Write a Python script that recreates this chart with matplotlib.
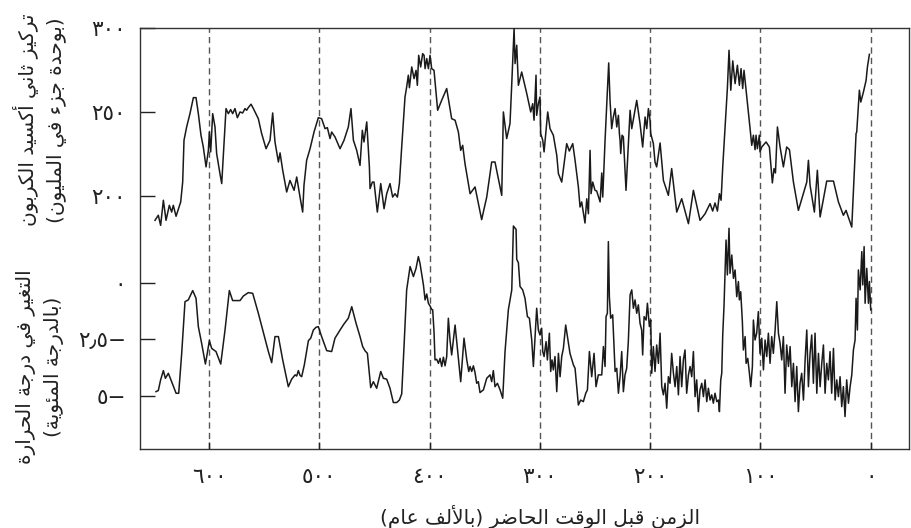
import matplotlib
matplotlib.use("Agg")
import matplotlib.pyplot as plt

plt.rcParams['font.family'] = ['DejaVu Sans']

# ---- data: ice-core record, age in thousands of years before present ----
co2_age = [649.0, 646.0, 643.9, 641.4, 639.0, 636.0, 633.9, 632.4, 629.9, 625.7,
           623.9, 622.7, 620.3, 617.3, 614.2, 611.8, 609.7, 607.3, 605.2, 602.7,
           600.6, 599.7, 598.5, 596.7, 594.6, 593.1, 590.1, 588.5, 586.4, 584.6,
           582.5, 580.4, 578.6, 576.5, 574.3, 571.9, 569.5, 567.4, 565.9, 564.4,
           561.9, 559.8, 555.3, 552.3, 548.3, 544.7, 542.3, 540.2, 537.1, 535.6,
           533.2, 529.6, 526.6, 522.9, 520.5, 517.5, 515.1, 513.9, 511.5, 508.4,
           504.8, 500.9, 497.9, 494.8, 492.7, 490.3, 488.8, 485.8, 481.2, 477.6,
           473.7, 471.3, 469.1, 466.1, 463.1, 461.0, 459.5, 457.0, 454.6, 454.0,
           451.9, 450.4, 447.4, 444.3, 441.3, 438.9, 435.9, 433.5, 431.4, 429.2,
           427.4, 425.3, 422.3, 420.8, 419.3, 418.3, 416.2, 414.1, 412.3, 411.1,
           409.9, 408.1, 406.3, 405.0, 404.1, 402.6, 401.1, 399.6, 398.1, 396.0,
           392.7, 389.0, 384.5, 380.0, 376.9, 373.9, 371.8, 370.0, 367.9, 363.3,
           358.8, 352.8, 348.2, 343.7, 340.7, 334.6, 333.1, 330.1, 327.1, 325.5,
           323.4, 322.5, 321.0, 319.5, 316.5, 311.9, 308.3, 306.5, 305.3, 303.5,
           302.9, 301.4, 299.9, 299.3, 297.4, 296.2, 293.8, 292.9, 290.8, 287.8,
           284.7, 283.2, 280.2, 275.7, 273.3, 270.2, 268.1, 265.1, 263.6, 262.1,
           259.1, 257.5, 256.0, 254.5, 253.6, 252.1, 250.0, 248.5, 245.4, 243.9,
           243.0, 240.9, 238.8, 237.6, 236.4, 234.9, 233.4, 231.8, 230.3, 228.8,
           227.9, 227.3, 226.7, 225.5, 224.3, 221.9, 218.2, 216.7, 212.2, 209.2,
           206.8, 204.6, 203.1, 201.6, 200.1, 199.5, 197.1, 195.6, 194.1, 191.0,
           188.0, 183.5, 180.5, 175.9, 171.4, 165.3, 160.8, 154.8, 150.2, 145.7,
           143.3, 141.2, 139.0, 137.2, 135.7, 134.2, 132.1, 130.0, 128.5, 126.9,
           125.1, 123.0, 120.9, 119.1, 117.6, 116.1, 114.9, 113.3, 111.8, 109.4,
           107.9, 106.4, 104.9, 104.0, 102.8, 101.0, 100.4, 98.8, 94.9, 91.9,
           89.2, 87.7, 86.4, 84.6, 82.2, 79.2, 76.2, 73.7, 70.1, 65.6,
           58.0, 56.5, 55.0, 51.1, 48.4, 45.9, 39.9, 33.8, 29.3, 24.8,
           22.4, 17.2, 13.3, 12.7, 10.3, 9.0, 6.6, 4.2, 3.0, 1.2]
co2_ppm = [185.7, 188.7, 182.7, 197.6, 185.7, 194.6, 190.6, 194.6, 188.1, 196.6,
           208.4, 233.2, 241.1, 249.0, 258.5, 258.5, 249.0, 236.2, 229.2, 217.4,
           227.2, 238.1, 226.3, 249.0, 241.1, 225.3, 213.4, 207.5, 231.2, 252.0,
           249.0, 251.4, 249.0, 252.0, 246.6, 250.0, 249.4, 252.0, 251.0, 252.6,
           254.6, 252.0, 246.0, 237.2, 228.2, 233.2, 249.4, 232.2, 220.3, 225.7,
           215.4, 202.5, 209.4, 203.5, 211.4, 199.5, 190.6, 206.5, 221.3, 228.2,
           238.1, 246.6, 246.0, 240.1, 240.7, 234.2, 238.1, 235.2, 228.2, 233.2,
           241.1, 252.0, 233.2, 227.2, 218.3, 239.1, 232.2, 244.1, 217.4, 204.5,
           208.4, 208.4, 190.6, 207.5, 192.6, 201.5, 207.5, 199.5, 201.5, 199.5,
           207.5, 229.2, 258.9, 264.8, 271.8, 264.4, 276.7, 269.8, 274.7, 265.8,
           283.6, 276.7, 284.6, 283.6, 275.7, 281.7, 275.7, 283.6, 275.7, 274.7,
           251.0, 257.0, 263.9, 246.0, 245.1, 238.1, 227.2, 230.2, 219.3, 201.5,
           205.5, 186.1, 199.5, 220.3, 220.3, 200.5, 250.0, 234.2, 243.1, 266.8,
           299.5, 278.7, 289.6, 265.8, 273.7, 260.9, 250.0, 254.9, 245.1, 271.8,
           248.0, 254.9, 258.9, 237.2, 233.2, 226.3, 243.1, 250.0, 240.1, 236.2,
           224.3, 213.4, 208.4, 231.2, 226.8, 231.2, 221.3, 205.5, 193.6, 196.6,
           184.1, 198.5, 189.6, 227.2, 201.5, 208.4, 203.5, 203.1, 196.6, 213.8,
           199.5, 233.2, 262.9, 279.1, 256.9, 240.1, 247.0, 252.0, 241.1, 248.0,
           237.2, 233.2, 225.3, 236.2, 235.2, 203.5, 251.0, 240.1, 256.9, 243.1,
           229.2, 247.0, 240.1, 252.0, 245.1, 237.2, 231.2, 220.3, 217.4, 231.6,
           209.4, 200.5, 216.4, 190.6, 198.5, 183.7, 203.5, 185.7, 189.6, 195.6,
           191.2, 196.0, 191.2, 201.5, 197.6, 217.4, 241.1, 263.9, 286.6, 262.9,
           280.3, 266.8, 277.7, 265.8, 275.7, 263.9, 274.7, 264.8, 255.9, 240.1,
           230.2, 236.2, 227.6, 236.2, 228.2, 236.2, 226.3, 229.2, 232.2, 229.2,
           207.9, 216.4, 213.8, 241.1, 229.2, 217.4, 229.2, 227.6, 208.4, 191.6,
           208.4, 221.3, 206.5, 190.6, 215.4, 187.7, 209.0, 209.0, 196.6, 188.7,
           191.6, 181.7, 237.2, 238.1, 262.9, 255.9, 261.9, 268.8, 276.7, 284.2]

temp_age = [648.1, 646.0, 643.9, 641.4, 639.6, 636.9, 633.9, 629.9, 627.5, 624.8,
            621.8, 618.8, 614.8, 611.8, 609.7, 606.7, 603.3, 602.1, 599.7, 597.6,
            593.7, 589.4, 585.5, 581.6, 578.6, 571.9, 568.9, 564.4, 560.4, 555.3,
            550.1, 546.2, 543.2, 540.2, 537.1, 533.2, 528.1, 525.1, 522.0, 520.5,
            519.0, 517.5, 516.0, 513.6, 509.9, 507.8, 505.4, 503.0, 500.9, 497.9,
            493.3, 488.8, 485.8, 481.2, 477.6, 473.7, 470.6, 466.7, 463.1, 460.7,
            458.5, 456.4, 453.4, 451.0, 448.0, 444.3, 441.9, 438.9, 435.9, 432.9,
            429.8, 427.4, 425.3, 423.2, 420.8, 417.7, 414.7, 412.3, 410.2, 408.7,
            405.6, 404.1, 402.6, 401.1, 399.6, 398.1, 397.2, 396.0, 395.1, 393.6,
            392.0, 390.5, 389.0, 387.5, 386.0, 384.5, 383.0, 381.5, 380.0, 376.9,
            373.9, 371.8, 368.8, 366.3, 364.5, 363.3, 361.8, 360.3, 358.8, 357.3,
            355.8, 354.3, 351.2, 348.2, 345.2, 343.7, 342.2, 340.7, 338.5, 336.1,
            333.7, 331.6, 328.6, 325.5, 324.0, 321.6, 321.0, 319.5, 318.0, 315.6,
            313.5, 311.3, 309.5, 307.4, 305.9, 304.4, 302.9, 301.4, 299.9, 298.4,
            297.4, 296.2, 294.4, 293.2, 291.4, 290.2, 289.0, 287.8, 286.3, 284.7,
            283.2, 281.7, 280.2, 278.7, 276.6, 272.7, 269.6, 268.1, 265.1, 263.0,
            260.6, 258.4, 256.9, 255.1, 253.0, 250.9, 249.1, 247.0, 243.9, 242.4,
            240.9, 240.0, 238.8, 237.9, 237.0, 235.8, 234.0, 231.8, 230.3, 228.8,
            227.3, 225.8, 224.3, 222.8, 221.3, 219.8, 218.2, 216.7, 215.2, 213.7,
            212.2, 210.7, 209.2, 207.7, 206.8, 205.5, 203.7, 202.5, 200.7, 199.5,
            198.6, 197.1, 195.6, 194.1, 192.5, 191.0, 189.5, 188.0, 186.5, 185.0,
            183.5, 182.0, 180.5, 178.9, 177.4, 175.9, 174.4, 172.9, 171.4, 169.9,
            168.4, 166.9, 165.3, 163.8, 162.3, 160.8, 159.3, 157.8, 156.3, 154.8,
            153.2, 151.7, 150.2, 148.7, 147.2, 145.7, 144.2, 142.7, 141.2, 139.6,
            138.1, 137.2, 136.0, 135.1, 134.2, 133.0, 131.2, 130.0, 128.5, 127.6,
            126.0, 124.5, 123.0, 121.5, 120.0, 119.1, 117.9, 116.4, 115.5, 113.9,
            113.0, 111.5, 110.0, 108.8, 107.3, 106.4, 104.9, 103.4, 101.9, 100.4,
            98.8, 97.3, 95.8, 94.3, 92.8, 91.3, 89.8, 88.3, 86.7, 85.2,
            83.7, 82.2, 80.7, 79.2, 77.7, 76.2, 74.6, 73.1, 71.6, 70.1,
            68.6, 67.1, 65.6, 64.1, 62.6, 61.0, 59.5, 58.0, 56.5, 55.0,
            53.5, 52.0, 50.5, 48.9, 47.4, 45.9, 44.4, 42.9, 41.4, 39.9,
            38.4, 36.9, 35.4, 33.8, 32.3, 30.8, 29.3, 27.8, 26.3, 24.8,
            23.3, 21.8, 20.2, 18.7, 17.2, 15.7, 14.2, 13.3, 12.1, 11.2,
            9.6, 8.1, 7.2, 6.0, 5.1, 3.6, 2.1, 1.2, 0.0]
temp_anom = [-4.81, -4.76, -4.29, -3.88, -4.22, -4.00, -4.37, -4.88, -4.88, -3.12,
             -0.84, -0.76, -0.35, -0.69, -1.94, -2.68, -3.59, -3.26, -2.56, -2.90,
             -3.04, -3.59, -2.09, -0.35, -0.79, -0.79, -0.59, -0.44, -0.47, -1.35,
             -2.31, -3.04, -3.53, -2.38, -2.38, -3.41, -4.59, -4.26, -4.07, -4.12,
             -3.88, -4.09, -4.15, -3.63, -2.56, -2.45, -2.09, -1.97, -1.94, -2.38,
             -3.00, -3.04, -2.45, -2.09, -1.82, -1.57, -1.06, -1.79, -2.38, -2.82,
             -3.01, -3.12, -4.63, -4.37, -4.66, -3.92, -4.22, -4.26, -4.66, -5.29,
             -5.29, -5.18, -4.91, -2.82, -0.32, 0.71, 0.27, 0.63, 1.15, 0.85,
             -0.10, -0.76, -0.50, -0.91, -1.03, -1.18, -1.20, -2.16, -3.41, -3.38,
             -3.56, -3.34, -3.70, -3.29, -3.67, -3.26, -1.57, -2.53, -3.19, -1.87,
             -3.34, -4.37, -2.45, -3.41, -3.92, -3.70, -3.92, -3.67, -3.97, -4.44,
             -4.37, -4.85, -4.73, -4.22, -4.07, -4.37, -3.88, -4.59, -4.44, -4.73,
             -5.10, -3.04, -1.20, -0.32, 2.50, 2.35, 1.03, 0.88, -0.17, -0.32,
             -0.69, -1.50, -1.57, -2.53, -3.70, -2.45, -1.13, -2.09, -2.31, -2.01,
             -3.04, -3.26, -2.60, -3.41, -2.23, -3.92, -3.41, -3.85, -3.26, -4.81,
             -3.12, -4.15, -3.26, -2.90, -1.87, -3.12, -3.63, -3.78, -5.40, -5.18,
             -5.25, -4.88, -4.73, -3.04, -4.15, -3.12, -4.59, -4.07, -4.07, -2.82,
             -3.70, -1.50, -1.35, 1.81, -0.62, -1.57, -1.42, -3.92, -3.78, -4.88,
             -4.15, -3.04, -4.81, -4.07, -3.78, -2.60, -0.54, -0.32, -1.13, -0.76,
             -1.35, -0.98, -1.79, -2.09, -3.19, -1.50, -1.65, -0.91, -1.94, -1.65,
             -4.00, -2.82, -3.92, -2.75, -3.56, -2.23, -4.59, -4.95, -4.44, -5.54,
             -4.15, -4.44, -3.12, -4.00, -4.59, -3.70, -4.95, -3.26, -4.59, -3.41,
             -2.97, -4.88, -4.07, -3.70, -4.15, -3.04, -5.03, -4.29, -5.69, -4.73,
             -4.44, -5.03, -4.29, -5.25, -4.66, -5.18, -4.95, -5.32, -4.88, -5.25,
             -5.18, -5.69, -4.29, -4.00, -2.31, -0.98, 1.88, 0.34, 2.40, 0.41,
             1.22, 0.19, 0.56, -0.62, 0.05, -0.76, -0.40, -1.72, -2.97, -2.38,
             -3.56, -3.34, -4.00, -4.59, -3.70, -1.65, -2.53, -2.23, -1.28, -3.12,
             -2.45, -3.85, -2.53, -3.26, -2.23, -3.56, -2.38, -3.12, -2.09, -0.84,
             -2.23, -2.68, -3.41, -2.38, -4.88, -2.75, -3.70, -2.82, -4.59, -3.56,
             -5.25, -3.70, -5.69, -4.44, -4.00, -5.18, -3.41, -2.09, -4.59, -3.12,
             -2.31, -4.44, -2.23, -4.88, -3.12, -4.59, -3.56, -2.75, -4.88, -3.56,
             -4.29, -3.04, -4.88, -2.90, -5.18, -4.29, -5.03, -4.15, -5.47, -4.59,
             -5.91, -4.29, -5.32, -4.59, -4.07, -2.97, -2.53, -0.69, -2.09, 0.56,
             -0.32, 1.37, -0.10, 1.59, -0.91, 0.63, -0.91, 0.05, -1.20]

x_ticks = [600, 500, 400, 300, 200, 100, 0]
x_tick_labels = ["٦٠٠", "٥٠٠", "٤٠٠", "٣٠٠", "٢٠٠", "١٠٠", "٠"]
co2_ticks = [200, 250, 300]
co2_tick_labels = ["٢٠٠", "٢٥٠", "٣٠٠"]
temp_ticks = [-5, -2.5, 0]
temp_tick_labels = ["٥−", "٢٫٥−", "٠"]

co2_label = "تركيز ثاني أكسيد الكربون\n(بوحدة جزء في المليون)"
temp_label = "التغير في درجة الحرارة\n(بالدرجة المئوية)"
x_label = "الزمن قبل الوقت الحاضر (بالألف عام)"


# ---- minimal Arabic shaping (contextual forms + right-to-left order) ----
FORMS = {
    'ء': (0xFE80,),
    'آ': (0xFE81, 0xFE82), 'أ': (0xFE83, 0xFE84), 'ؤ': (0xFE85, 0xFE86),
    'إ': (0xFE87, 0xFE88), 'ا': (0xFE8D, 0xFE8E), 'ة': (0xFE93, 0xFE94),
    'د': (0xFEA9, 0xFEAA), 'ذ': (0xFEAB, 0xFEAC), 'ر': (0xFEAD, 0xFEAE),
    'ز': (0xFEAF, 0xFEB0), 'و': (0xFEED, 0xFEEE), 'ى': (0xFEEF, 0xFEF0),
    'ئ': (0xFE89, 0xFE8A, 0xFE8B, 0xFE8C), 'ب': (0xFE8F, 0xFE90, 0xFE91, 0xFE92),
    'ت': (0xFE95, 0xFE96, 0xFE97, 0xFE98), 'ث': (0xFE99, 0xFE9A, 0xFE9B, 0xFE9C),
    'ج': (0xFE9D, 0xFE9E, 0xFE9F, 0xFEA0), 'ح': (0xFEA1, 0xFEA2, 0xFEA3, 0xFEA4),
    'خ': (0xFEA5, 0xFEA6, 0xFEA7, 0xFEA8), 'س': (0xFEB1, 0xFEB2, 0xFEB3, 0xFEB4),
    'ش': (0xFEB5, 0xFEB6, 0xFEB7, 0xFEB8), 'ص': (0xFEB9, 0xFEBA, 0xFEBB, 0xFEBC),
    'ض': (0xFEBD, 0xFEBE, 0xFEBF, 0xFEC0), 'ط': (0xFEC1, 0xFEC2, 0xFEC3, 0xFEC4),
    'ظ': (0xFEC5, 0xFEC6, 0xFEC7, 0xFEC8), 'ع': (0xFEC9, 0xFECA, 0xFECB, 0xFECC),
    'غ': (0xFECD, 0xFECE, 0xFECF, 0xFED0), 'ف': (0xFED1, 0xFED2, 0xFED3, 0xFED4),
    'ق': (0xFED5, 0xFED6, 0xFED7, 0xFED8), 'ك': (0xFED9, 0xFEDA, 0xFEDB, 0xFEDC),
    'ل': (0xFEDD, 0xFEDE, 0xFEDF, 0xFEE0), 'م': (0xFEE1, 0xFEE2, 0xFEE3, 0xFEE4),
    'ن': (0xFEE5, 0xFEE6, 0xFEE7, 0xFEE8), 'ه': (0xFEE9, 0xFEEA, 0xFEEB, 0xFEEC),
    'ي': (0xFEF1, 0xFEF2, 0xFEF3, 0xFEF4),
}
LAM_ALEF = {'آ': (0xFEF5, 0xFEF6), 'أ': (0xFEF7, 0xFEF8),
            'إ': (0xFEF9, 0xFEFA), 'ا': (0xFEFB, 0xFEFC)}


def _dual(c):
    return c is not None and c in FORMS and len(FORMS[c]) == 4


def _joining(c):
    return c is not None and c in FORMS and len(FORMS[c]) >= 2


def shape_line(text):
    out = []
    i, n = 0, len(text)
    while i < n:
        c = text[i]
        prev = text[i - 1] if i > 0 else None
        nxt = text[i + 1] if i + 1 < n else None
        if c == 'ل' and nxt in LAM_ALEF:
            iso, fin = LAM_ALEF[nxt]
            out.append(chr(fin if _dual(prev) else iso))
            i += 2
            continue
        if c in FORMS:
            forms = FORMS[c]
            jp = _dual(prev) and len(forms) >= 2
            jn = len(forms) == 4 and _joining(nxt)
            if jp and jn:
                code = forms[3]
            elif jp:
                code = forms[1]
            elif jn:
                code = forms[2]
            else:
                code = forms[0]
            out.append(chr(code))
        else:
            out.append(c)
        i += 1
    visual = ''.join(reversed(out))
    return visual.translate(str.maketrans('()', ')('))


def shape(text):
    return '\n'.join(shape_line(line) for line in text.split('\n'))


# ---- figure ----
W, H = 912, 528
fig = plt.figure(figsize=(W / 100, H / 100), dpi=100)
ax_left, ax_right, ax_top, ax_bottom = 140, 909, 27.7, 449
ax = fig.add_axes([ax_left / W, (H - ax_bottom) / H,
                   (ax_right - ax_left) / W, (ax_bottom - ax_top) / H])
ax.set_xlim(662.6, -34.7)
ax.set_ylim(50, 300)

ink = '#1a1a1a'
text_col = '#222222'
for t in x_ticks:
    ax.axvline(t, color='#555555', lw=1.0, ls=(0, (4.5, 3.0)), zorder=1)

ax.plot(co2_age, co2_ppm, color=ink, lw=1.1, zorder=3)

ax2 = ax.twinx()
ax2.set_ylim(-7.34, 11.25)
ax2.plot(temp_age, temp_anom, color=ink, lw=1.1, zorder=3)

for s in ax.spines.values():
    s.set_color('#333333')
    s.set_linewidth(1.0)
for s in ax2.spines.values():
    s.set_visible(False)

tick_size = 15.5
ax.set_xticks(x_ticks)
ax.set_xticklabels(x_tick_labels)
ax.set_yticks(co2_ticks)
ax.set_yticklabels(co2_tick_labels)
ax.tick_params(axis='x', direction='in', length=5, width=1, pad=13,
               labelsize=tick_size, colors=text_col)
ax.tick_params(axis='y', direction='in', length=11, width=1, pad=10,
               labelsize=tick_size, colors=text_col)

ax2.yaxis.set_ticks_position('left')
ax2.set_yticks(temp_ticks)
ax2.set_yticklabels(temp_tick_labels)
ax2.tick_params(axis='y', which='both', direction='in', length=11, width=1,
                pad=10, labelsize=tick_size, colors=text_col,
                left=True, labelleft=True, right=False, labelright=False)

label_size = 14.5
fig.text(40 / W, 1 - 120 / H, shape(co2_label), rotation=90,
         ha='center', va='center', fontsize=label_size, color=text_col,
         multialignment='center', linespacing=1.55)
fig.text(40 / W, 1 - 367 / H, shape(temp_label), rotation=90,
         ha='center', va='center', fontsize=label_size, color=text_col,
         multialignment='center', linespacing=1.55)
fig.text(540 / W, 1 - 517 / H, shape(x_label), ha='center', va='center',
         fontsize=label_size, color=text_col)

fig.savefig('out.png', dpi=100)
